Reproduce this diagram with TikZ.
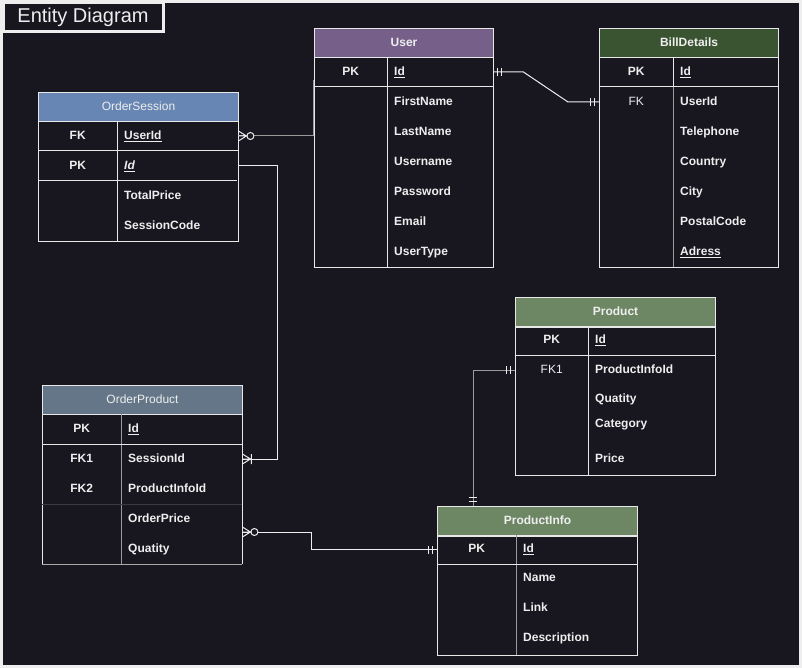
\documentclass[tikz,border=0pt]{standalone}
\usepackage{fontspec}
\setmainfont{Liberation Sans}
\usetikzlibrary{positioning}

\definecolor{bg}{HTML}{18161F}
\definecolor{frame}{HTML}{EEEEEE}
\definecolor{ink}{HTML}{EEEEEE}
\definecolor{rule}{HTML}{E8E8E8}
\definecolor{dimrule}{HTML}{9A9A9A}
\definecolor{darkrule}{HTML}{3A3A46}
\definecolor{userhd}{HTML}{76608A}
\definecolor{billhd}{HTML}{3A5431}
\definecolor{sesshd}{HTML}{6786B4}
\definecolor{ordhd}{HTML}{647687}
\definecolor{prodhd}{HTML}{6D8764}

\tikzset{
  hdr/.style={draw=rule, line width=1pt, anchor=north west, minimum height=29pt, inner sep=0pt, text=ink, text height=9pt, text depth=2.5pt, font=\fontsize{12}{14}\selectfont\bfseries},
  keyc/.style={anchor=west, minimum width=#1, minimum height=30pt, inner sep=0pt, text=ink, text height=9pt, text depth=2.5pt, font=\fontsize{12}{14}\selectfont\bfseries},
  fld/.style={anchor=west, text width=#1, minimum height=30pt, inner ysep=0pt, inner xsep=7pt, align=left, text=ink, text height=9pt, text depth=2.5pt, font=\fontsize{12}{14}\selectfont\bfseries},
  tbl/.style={draw=rule, line width=1pt},
  wire/.style={draw=ink, line width=1pt},
  pics/mand/.style={code={\draw[wire] (4.5,-4) -- (4.5,4) (8.5,-4) -- (8.5,4);}},
  pics/zeromany/.style={code={\draw[wire] (0,-5) -- (8,0) -- (0,5) (0,0) -- (8,0); \draw[wire, fill=bg] (12,0) circle (3.5pt);}},
  pics/onemany/.style={code={\draw[wire] (0,-5) -- (8,0) -- (0,5) (0,0) -- (8,0) (9,-5) -- (9,5);}},
}

\begin{document}
\begin{tikzpicture}[x=1pt,y=-1pt]
 \useasboundingbox (0,0) rectangle (802,668);
 \fill[frame] (0,0) rectangle (802,668);
 \fill[bg] (3,3) rectangle (799,665);
 \node[draw=frame, line width=3pt, fill=bg, anchor=north west, minimum width=160pt, minimum height=29pt, inner sep=0pt, text=ink, font=\fontsize{20}{24}\selectfont] (title) at (1.5,1.5) {Entity Diagram};

 % User
 \node[hdr, fill=userhd, minimum width=179pt] (user) at (314,28) {User};
 \draw[tbl] (user.south west) rectangle (493,267);
 \draw[tbl] (387,57) -- (387,267);
 \draw[tbl] (314,87) -- (493,87);
 \node[keyc=73pt] (user-pk) at (314,72) {PK};
 \node[fld=92pt] (user-id) at (387,72) {\underline{Id}};
 \node[fld=92pt] (user-fname) at (387,102) {FirstName};
 \node[fld=92pt] (user-lname) at (387,132) {LastName};
 \node[fld=92pt] (user-uname) at (387,162) {Username};
 \node[fld=92pt] (user-pass) at (387,192) {Password};
 \node[fld=92pt] (user-mail) at (387,222) {Email};
 \node[fld=92pt] (user-type) at (387,252) {UserType};

 % BillDetails
 \node[hdr, fill=billhd, minimum width=179pt] (bill) at (599,28) {BillDetails};
 \draw[tbl] (bill.south west) rectangle (778,267);
 \draw[tbl] (673,57) -- (673,87);
 \draw[tbl, draw=dimrule] (673,87) -- (673,267);
 \draw[tbl] (599,87) -- (778,87);
 \node[keyc=74pt] (bill-pk) at (599,72) {PK};
 \node[keyc=74pt, font=\fontsize{12}{14}\selectfont] (bill-fk) at (599,102) {FK};
 \node[fld=91pt] (bill-id) at (673,72) {\underline{Id}};
 \node[fld=91pt] (bill-uid) at (673,102) {UserId};
 \node[fld=91pt] (bill-tel) at (673,132) {Telephone};
 \node[fld=91pt] (bill-country) at (673,162) {Country};
 \node[fld=91pt] (bill-city) at (673,192) {City};
 \node[fld=91pt] (bill-zip) at (673,222) {PostalCode};
 \node[fld=91pt] (bill-addr) at (673,252) {\underline{Adress}};

 % OrderSession
 \node[hdr, fill=sesshd, minimum width=200pt, font=\fontsize{12}{14}\selectfont] (os) at (38,92) {OrderSession};
 \draw[tbl] (os.south west) rectangle (238,241);
 \draw[tbl] (117,121) -- (117,241);
 \draw[tbl] (38,151) -- (238,151);
 \draw[tbl] (38,181) -- (237,181);
 \node[keyc=79pt] (os-fk) at (38,136) {FK};
 \node[keyc=79pt] (os-pk) at (38,166) {PK};
 \node[fld=107pt] (os-uid) at (117,136) {\underline{UserId}};
 \node[fld=107pt] (os-id) at (117,166) {\textit{\underline{Id}}};
 \node[fld=107pt] (os-total) at (117,196) {TotalPrice};
 \node[fld=107pt] (os-code) at (117,226) {SessionCode};

 % OrderProduct
 \node[hdr, fill=ordhd, minimum width=200pt, font=\fontsize{12}{14}\selectfont] (op) at (42,385) {OrderProduct};
 \draw[tbl] (op.south west) -- (42,564);
 \draw[tbl] (242,414) -- (242,564);
 \draw[tbl, draw=dimrule!80!rule] (42,564) -- (242,564);
 \draw[tbl, draw=dimrule] (121,414) -- (121,564);
 \draw[tbl] (42,444) -- (242,444);
 \draw[tbl, draw=darkrule] (42,504) -- (242,504);
 \node[keyc=79pt] (op-pk) at (42,429) {PK};
 \node[keyc=79pt] (op-fk1) at (42,459) {FK1};
 \node[keyc=79pt] (op-fk2) at (42,489) {FK2};
 \node[fld=107pt] (op-id) at (121,429) {\underline{Id}};
 \node[fld=107pt] (op-sid) at (121,459) {SessionId};
 \node[fld=107pt] (op-pid) at (121,489) {ProductInfoId};
 \node[fld=107pt] (op-price) at (121,519) {OrderPrice};
 \node[fld=107pt] (op-qty) at (121,549) {Quatity};

 % Product
 \node[hdr, fill=prodhd, minimum width=200pt] (prod) at (515,297) {Product};
 \draw[tbl] (prod.south west) rectangle (715,475);
 \draw[tbl] (588,326) -- (588,475);
 \draw[tbl] (515,355) -- (715,355);
 \node[keyc=73pt] (prod-pk) at (515,340.5) {PK};
 \node[keyc=73pt, font=\fontsize{12}{14}\selectfont] (prod-fk) at (515,370) {FK1};
 \node[fld=113pt] (prod-id) at (588,340.5) {\underline{Id}};
 \node[fld=113pt] (prod-pid) at (588,370) {ProductInfoId};
 \node[fld=113pt] (prod-qty) at (588,399) {Quatity};
 \node[fld=113pt] (prod-cat) at (588,424) {Category};
 \node[fld=113pt] (prod-price) at (588,459) {Price};

 % ProductInfo
 \node[hdr, fill=prodhd, minimum width=200pt] (pinfo) at (437,506) {ProductInfo};
 \draw[tbl] (pinfo.south west) rectangle (637,655);
 \draw[tbl, draw=dimrule] (516,535) -- (516,655);
 \draw[tbl] (437,564) -- (637,564);
 \node[keyc=79pt] (pinfo-pk) at (437,549.5) {PK};
 \node[fld=107pt] (pinfo-id) at (516,549.5) {\underline{Id}};
 \node[fld=107pt] (pinfo-name) at (516,578) {Name};
 \node[fld=107pt] (pinfo-link) at (516,608) {Link};
 \node[fld=107pt] (pinfo-desc) at (516,638) {Description};

 % relations
 \draw[wire] (user-id.east) -- ++(30,0) -- ([xshift=-31pt]bill-fk.west) -- (bill-fk.west);
 \pic at (user-id.east) {mand};
 \pic[rotate=180] at (bill-fk.west) {mand};

 \draw[wire, draw=dimrule] (os-uid.east) -| ([xshift=-1pt,yshift=-8pt]user-pk.west);
 \pic at (os-uid.east) {zeromany};

 \draw[wire] (os-id.east) -- ++(39,0) |- (op-sid.east);
 \pic at (op-sid.east) {onemany};

 \coordinate (op-link) at ([yshift=-13pt]op-price.east);
 \draw[wire] (op-link) -- ++(69,0) |- (pinfo-pk.west);
 \pic at (op-link) {zeromany};
 \pic[rotate=180] at (pinfo-pk.west) {mand};

 \draw[wire, draw=dimrule] (prod-fk.west) -| ([xshift=36pt]pinfo.north west);
 \pic[rotate=180] at (prod-fk.west) {mand};
 \pic[rotate=90] at ([xshift=36pt]pinfo.north west) {mand};
\end{tikzpicture}
\end{document}
